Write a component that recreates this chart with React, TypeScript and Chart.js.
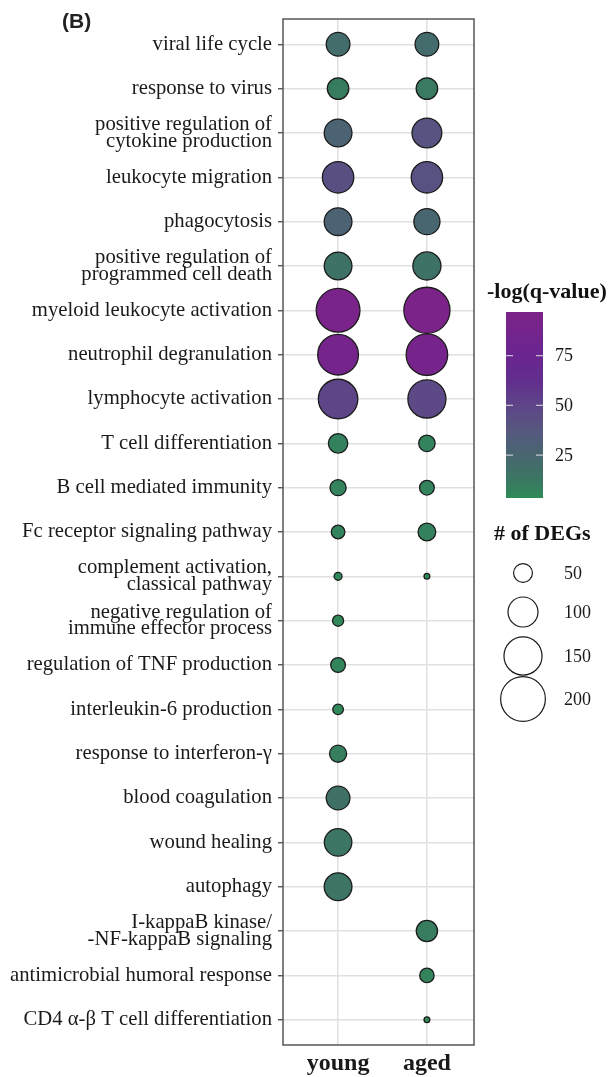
import React, { useEffect, useRef } from "react";
import { Chart, registerables } from "chart.js";

Chart.register(...registerables);

// Sample groups along the x axis
const GROUPS = ["young", "aged"];

// GO terms, top to bottom (two-line names are split into arrays)
const TERMS: (string | string[])[] = [
  "viral life cycle",
  "response to virus",
  ["positive regulation of", "cytokine production"],
  "leukocyte migration",
  "phagocytosis",
  ["positive regulation of", "programmed cell death"],
  "myeloid leukocyte activation",
  "neutrophil degranulation",
  "lymphocyte activation",
  "T cell differentiation",
  "B cell mediated immunity",
  "Fc receptor signaling pathway",
  ["complement activation,", "classical pathway"],
  ["negative regulation of", "immune effector process"],
  "regulation of TNF production",
  "interleukin-6 production",
  "response to interferon-γ",
  "blood coagulation",
  "wound healing",
  "autophagy",
  ["I-kappaB kinase/", "-NF-kappaB signaling"],
  "antimicrobial humoral response",
  "CD4 α-β T cell differentiation",
];

// Number of DEGs per term (null = term not enriched in that group)
const YOUNG_DEGS = [69, 60, 88, 108, 88, 88, 192, 169, 160, 52, 41, 34, 22, 28, 37, 27, 44, 69, 87, 88, null, null, null];
const AGED_DEGS = [69, 60, 99, 108, 80, 90, 211, 175, 150, 42, 37, 46, 19, null, null, null, null, null, null, null, 59, 36, 19];

// -log(q-value) per term
const YOUNG_LOGQ = [20, 10, 28, 43, 28, 16, 95, 88, 50, 8, 7, 7, 5, 5, 6, 5, 9, 17, 14, 15, null, null, null];
const AGED_LOGQ = [21, 11, 40, 41, 25, 16, 97, 90, 47, 7, 7, 8, 4, null, null, null, null, null, null, null, 10, 7, 4];

// Legend breaks
const Q_TICKS = [25, 50, 75];
const DEG_BREAKS = [50, 100, 150, 200];

// Colour scale: limits and gradient stops (value, colour)
const Q_LIMITS = [3.4, 97];
const Q_STOPS: [number, string][] = [
  [3.4, "#2E8B57"],
  [12, "#3A7862"],
  [25, "#486670"],
  [37, "#56587F"],
  [50, "#5E4588"],
  [62, "#622F8E"],
  [75, "#6A2590"],
  [97, "#7C2389"],
];

const SERIF = "'Liberation Serif', 'Times New Roman', serif";

function hexToRgb(h: string) {
  const n = parseInt(h.slice(1), 16);
  return [(n >> 16) & 255, (n >> 8) & 255, n & 255];
}

function colorFor(q: number) {
  const v = Math.min(Q_LIMITS[1], Math.max(Q_LIMITS[0], q));
  for (let i = 0; i < Q_STOPS.length - 1; i++) {
    const [v0, c0] = Q_STOPS[i];
    const [v1, c1] = Q_STOPS[i + 1];
    if (v >= v0 && v <= v1) {
      const t = (v - v0) / (v1 - v0);
      const a = hexToRgb(c0);
      const b = hexToRgb(c1);
      const m = a.map((x, k) => Math.round(x + (b[k] - x) * t));
      return `rgb(${m[0]},${m[1]},${m[2]})`;
    }
  }
  return Q_STOPS[Q_STOPS.length - 1][1];
}

// Area-proportional size scale (radius in px)
function degRadius(n: number) {
  return Math.sqrt(Math.max(6, 2.85 * n - 42)) - 0.6;
}

function buildPoints(degs: (number | null)[], logq: (number | null)[], gx: number) {
  const pts: { x: number; y: number; n: number; q: number }[] = [];
  degs.forEach((n, i) => {
    const q = logq[i];
    if (n != null && q != null) pts.push({ x: gx, y: i, n, q });
  });
  return pts;
}

const decorations = {
  id: "decorations",
  afterDraw(chart: any) {
    const { ctx, chartArea: a } = chart;
    ctx.save();

    // panel frame
    ctx.strokeStyle = "#555";
    ctx.lineWidth = 1.5;
    ctx.strokeRect(a.left, a.top, a.right - a.left, a.bottom - a.top);

    // panel tag
    ctx.fillStyle = "#222";
    ctx.font = "bold 21px 'Liberation Sans', Arial, sans-serif";
    ctx.textAlign = "left";
    ctx.textBaseline = "alphabetic";
    ctx.fillText("(B)", 62, 28);

    // colour bar legend
    const bx = a.right + 32;
    const bw = 37;
    const bTop = 312;
    const bBot = 498;
    const span = Q_LIMITS[1] - Q_LIMITS[0];
    const grad = ctx.createLinearGradient(0, bBot, 0, bTop);
    for (const [v, c] of Q_STOPS) grad.addColorStop((v - Q_LIMITS[0]) / span, c);
    ctx.fillStyle = grad;
    ctx.fillRect(bx, bTop, bw, bBot - bTop);

    ctx.fillStyle = "#111";
    ctx.font = `bold 22px ${SERIF}`;
    ctx.fillText("-log(q-value)", a.right + 13, 298);

    ctx.font = `18px ${SERIF}`;
    ctx.textBaseline = "middle";
    ctx.strokeStyle = "rgba(235,235,235,0.75)";
    ctx.lineWidth = 1.2;
    for (const t of Q_TICKS) {
      const y = bBot - ((t - Q_LIMITS[0]) / span) * (bBot - bTop);
      ctx.beginPath();
      ctx.moveTo(bx, y);
      ctx.lineTo(bx + 7, y);
      ctx.moveTo(bx + bw - 7, y);
      ctx.lineTo(bx + bw, y);
      ctx.stroke();
      ctx.fillStyle = "#1a1a1a";
      ctx.fillText(String(t), bx + bw + 12, y + 1);
    }

    // size legend
    ctx.textBaseline = "alphabetic";
    ctx.fillStyle = "#111";
    ctx.font = `bold 22px ${SERIF}`;
    ctx.fillText("# of DEGs", a.right + 20, 540);

    const cx = a.right + 49;
    const ys = [573, 612, 656, 699];
    ctx.font = `18px ${SERIF}`;
    ctx.textBaseline = "middle";
    DEG_BREAKS.forEach((b, i) => {
      ctx.beginPath();
      ctx.arc(cx, ys[i], degRadius(b), 0, Math.PI * 2);
      ctx.fillStyle = "#fff";
      ctx.fill();
      ctx.strokeStyle = "#1a1a1a";
      ctx.lineWidth = 1.2;
      ctx.stroke();
      ctx.fillStyle = "#1a1a1a";
      ctx.fillText(String(b), a.right + 90, ys[i] + 1);
    });

    ctx.restore();
  },
};

export default function App() {
  const canvasRef = useRef<HTMLCanvasElement | null>(null);

  useEffect(() => {
    const canvas = canvasRef.current;
    if (!canvas) return;

    const bubbleStyle = {
      backgroundColor: (c: any) => colorFor(c.raw.q),
      borderColor: "#1c1c1c",
      borderWidth: 1.3,
      radius: (c: any) => degRadius(c.raw.n),
      hoverRadius: 0,
    };

    const chart = new Chart(canvas, {
      type: "bubble",
      data: {
        datasets: [
          { label: GROUPS[0], data: buildPoints(YOUNG_DEGS, YOUNG_LOGQ, 0), ...bubbleStyle },
          { label: GROUPS[1], data: buildPoints(AGED_DEGS, AGED_LOGQ, 1), ...bubbleStyle },
        ] as any,
      },
      options: {
        responsive: false,
        maintainAspectRatio: false,
        devicePixelRatio: 1,
        animation: false,
        events: [],
        layout: { autoPadding: false, padding: { top: 19, right: 141, bottom: 0, left: 0 } },
        plugins: {
          legend: { display: false },
          tooltip: { enabled: false },
          title: { display: false },
        },
        scales: {
          x: {
            type: "linear",
            position: "bottom",
            min: -0.62,
            max: 1.53,
            afterBuildTicks: (s: any) => {
              s.ticks = GROUPS.map((_, i) => ({ value: i }));
            },
            afterFit: (s: any) => {
              s.height = 32;
              s.paddingLeft = 0;
              s.paddingRight = 0;
            },
            ticks: {
              callback: (v: any) => GROUPS[v as number],
              font: { family: SERIF, size: 24, weight: "bold" },
              color: "#1a1a1a",
              padding: 4,
              maxRotation: 0,
              autoSkip: false,
            },
            grid: { color: "#E0E0E0", lineWidth: 1.5, drawTicks: false },
            border: { display: false },
          },
          y: {
            type: "linear",
            reverse: true,
            min: -0.57,
            max: TERMS.length - 0.43,
            afterBuildTicks: (s: any) => {
              s.ticks = TERMS.map((_, i) => ({ value: i }));
            },
            afterFit: (s: any) => {
              s.width = 283;
              s.paddingTop = 0;
              s.paddingBottom = 0;
            },
            ticks: {
              callback: (v: any) => TERMS[v as number],
              font: { family: SERIF, size: 20.7, lineHeight: 0.8 },
              color: "#1a1a1a",
              padding: 6,
              autoSkip: false,
            },
            grid: {
              color: "#E0E0E0",
              lineWidth: 1.5,
              drawTicks: true,
              tickLength: 5,
              tickColor: "#444",
              tickWidth: 1.3,
            },
            border: { display: false },
          },
        },
      },
      plugins: [decorations],
    });

    return () => chart.destroy();
  }, []);

  return (
    <div style={{ position: "absolute", left: 0, top: 0, width: 615, height: 1077, background: "#fff" }}>
      <canvas ref={canvasRef} width={615} height={1077} style={{ display: "block" }} />
    </div>
  );
}
